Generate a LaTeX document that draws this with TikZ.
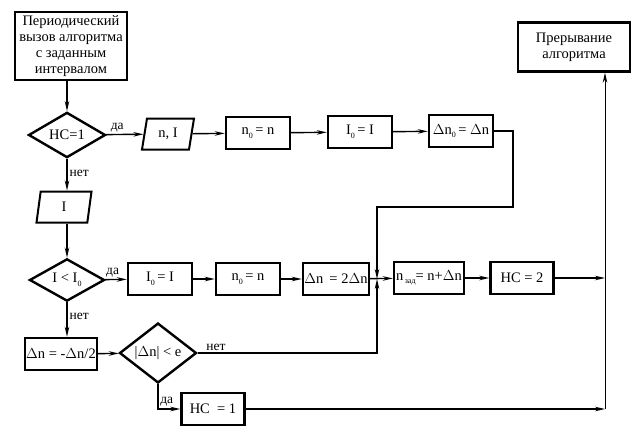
\documentclass[tikz,border=0pt]{standalone}
\usepackage{fontspec}
\setmainfont{Liberation Serif}
\usetikzlibrary{arrows.meta,shapes.geometric}
\newcommand\lowsub[1]{\raisebox{-0.55ex}{\fontsize{8}{8}\selectfont #1}}
\tikzset{>={Stealth[length=10pt,width=4.5pt]},
  txt/.style={font=\fontsize{14.5}{16}\selectfont},
  blk/.style={draw, line width=2.4pt, minimum height=32pt, minimum width=64pt, inner sep=1pt, align=center, txt},
  dec/.style={draw, diamond, line width=2.4pt, minimum height=36pt, minimum width=77pt, inner sep=0pt, txt},
  io/.style={draw, trapezium, trapezium left angle=70, trapezium right angle=110, line width=2pt,
    minimum height=31pt, minimum width=52pt, inner sep=1pt, trapezium stretches body, txt},
  lbl/.style={font=\fontsize{13.5}{15}\selectfont, inner sep=2pt},
  ln/.style={line width=1.4pt}}

\begin{document}
\begin{tikzpicture}[x=1pt, y=-1pt]
  \useasboundingbox (0,0) rectangle (642,444);
  % upper branch
  \node[blk, minimum width=112pt, minimum height=68pt] (start) at (71,46)
    {Периодический\\вызов алгоритма\\с заданным\\интервалом};
  \node[dec] (hc) at (67,135) {НС=1};
  \node[io] (ni) at (168,134) {n, I};
  \node[blk] (nzero) at (258,133) {n\lowsub{0}\,= n};
  \node[blk] (izero) at (360,132) {I\lowsub{0}\,= I};
  \node[blk] (dzero) at (461,131) {$\Delta$n\lowsub{0}\,= $\Delta$n};
  \node[blk, minimum width=112pt, minimum height=49pt] (stop) at (574,47) {Прерывание\\алгоритма};
  % middle row
  \node[io, minimum width=55pt] (iin) at (64,207) {I};
  \node[dec, minimum width=75pt] (cmp) at (67,280) {I < I\lowsub{0}};
  \node[blk] (iset) at (160,279) {I\lowsub{0}\,= I};
  \node[blk] (nset) at (248,279) {n\lowsub{0}\,= n};
  \node[blk, minimum width=66pt, inner sep=0pt] (dbl) at (336,279) {$\Delta$n \,= 2$\Delta$n};
  \coordinate (j) at (377,279);
  \node[blk, minimum width=70pt] (nzad) at (429,278) {n\lowsub{\,зад}= n+$\Delta$n};
  \node[blk, minimum width=63pt] (hctwo) at (522,278) {НС = 2};
  \coordinate (rt) at (605,278);
  % lower branch
  \node[blk, minimum width=69pt] (half) at (61,354) {$\Delta$n = -$\Delta$n/2};
  \node[dec] (eps) at (158,353) {|$\Delta$n| < e};
  \node[blk, minimum width=63pt] (hcone) at (213,409) {НС \ = 1};
  \coordinate (rb) at (605,409);
  \coordinate (k) at (513,207);

  \draw[ln, ->] (hc |- start.south) -- (hc);
  \draw[ln, ->] (hc) -- node[lbl, above, pos=0.3] {да} (ni);
  \draw[ln, ->] (ni) -- (nzero);
  \draw[ln, ->] (nzero) -- (izero);
  \draw[ln, ->] (izero) -- (dzero);
  \draw[ln, ->] (dzero.east) -| (k) -| (j);
  \draw[ln, ->] (hc) -- node[lbl, right, pos=0.45] {нет} (hc |- iin.north);
  \draw[ln, ->] (hc |- iin.south) -- (cmp);
  \draw[ln, ->] (cmp) -- node[lbl, above, pos=0.35] {да} (iset);
  \draw[ln, ->] (iset) -- (nset);
  \draw[ln, ->] (nset) -- (dbl);
  \draw[ln, ->] (dbl) -- (nzad);
  \draw[ln, ->] (nzad) -- (hctwo);
  \draw[ln, ->] (hctwo) -- (rt);
  \draw[ln, ->] (cmp) -- node[lbl, right, pos=0.4] {нет} (cmp |- half.north);
  \draw[ln, ->] (half) -- (eps);
  \draw[ln, ->] (eps.east) node[lbl, above right, xshift=6pt] {нет} -| (j);
  \draw[ln, ->] (eps.south) |- node[lbl, above left, pos=0.9] {да} (hcone.west);
  \draw[ln, ->] (hcone) -- (rb);
  \draw[line width=1pt, ->] (rb) -- (rb |- stop.south);
\end{tikzpicture}
\end{document}
